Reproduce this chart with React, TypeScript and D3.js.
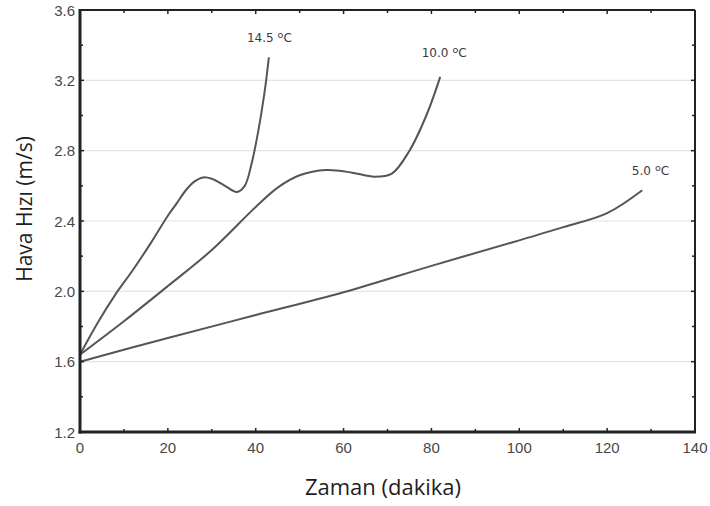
import React, { useRef, useEffect } from 'react';
import * as d3 from 'd3';

// zaman (dakika) / hava hizi (m/s)
const t145 = [0, 4, 8, 12, 16, 20, 22, 24, 26, 28, 30, 33, 35.7, 37.5, 39, 40.5, 42, 43];
const v145 = [1.64, 1.82, 1.98, 2.12, 2.27, 2.43, 2.5, 2.572, 2.624, 2.648, 2.64, 2.6, 2.565, 2.6, 2.72, 2.9, 3.13, 3.33];

const t100 = [0, 10, 20, 30, 40, 45, 50, 56, 62, 67, 71, 75, 79, 82];
const v100 = [1.64, 1.83, 2.03, 2.235, 2.48, 2.59, 2.66, 2.69, 2.675, 2.652, 2.67, 2.8, 3.01, 3.22];

const t50 = [0, 20, 40, 60, 80, 100, 110, 120, 128];
const v50 = [1.6, 1.735, 1.865, 1.995, 2.145, 2.29, 2.365, 2.445, 2.575];

const seriesLabels = ['14.5', '10.0', '5.0'];
const xTicks = [0, 20, 40, 60, 80, 100, 120, 140];
const yTicks = [1.2, 1.6, 2.0, 2.4, 2.8, 3.2, 3.6];

const W = 710;
const H = 506;
const m = { left: 80, right: 15, top: 10, bottom: 74 };

const App = () => {
  const svgRef = useRef<SVGSVGElement>(null);

  useEffect(() => {
    const svg = d3.select(svgRef.current);
    svg.selectAll('*').remove();

    const x = d3.scaleLinear().domain([0, 140]).range([m.left, W - m.right]);
    const y = d3.scaleLinear().domain([1.2, 3.6]).range([H - m.bottom, m.top]);
    const [x0, x1] = x.range();
    const [y0, y1] = y.range();

    // grid
    svg
      .append('g')
      .selectAll('line')
      .data(yTicks.slice(1, -1))
      .enter()
      .append('line')
      .attr('x1', x0)
      .attr('x2', x1)
      .attr('y1', d => y(d))
      .attr('y2', d => y(d))
      .attr('stroke', '#e4e4e4')
      .attr('stroke-width', 1.2);

    // curves
    const line = d3
      .line<[number, number]>()
      .x(d => x(d[0]))
      .y(d => y(d[1]))
      .curve(d3.curveCatmullRom.alpha(0.5));

    const series = [
      { t: t145, v: v145 },
      { t: t100, v: v100 },
      { t: t50, v: v50 },
    ];
    series.forEach(s => {
      svg
        .append('path')
        .attr('d', line(s.t.map((t, i) => [t, s.v[i]] as [number, number])))
        .attr('fill', 'none')
        .attr('stroke', '#555')
        .attr('stroke-width', 2);
    });

    // curve labels near the end of each curve
    const labelPos = [
      { dx: -22, dy: -15 },
      { dx: -18.5, dy: -19.5 },
      { dx: -10.5, dy: -15.5 },
    ];
    series.forEach((s, i) => {
      const n = s.t.length - 1;
      const txt = svg
        .append('text')
        .attr('x', x(s.t[n]) + labelPos[i].dx)
        .attr('y', y(s.v[n]) + labelPos[i].dy)
        .attr('font-family', 'DejaVu Sans, sans-serif')
        .attr('font-size', 12)
        .attr('fill', '#3a3a3a');
      txt.append('tspan').text(seriesLabels[i]);
      txt.append('tspan').attr('dx', 4).attr('dy', -4).attr('font-size', 9.5).text('o');
      txt.append('tspan').attr('dy', 4).text('C');
    });

    // frame
    const frame = svg.append('g').attr('stroke', '#222').attr('fill', 'none');
    frame.append('line').attr('x1', x0).attr('x2', x1).attr('y1', y1).attr('y2', y1).attr('stroke-width', 2);
    frame.append('line').attr('x1', x1).attr('x2', x1).attr('y1', y1).attr('y2', y0).attr('stroke-width', 2);
    frame.append('line').attr('x1', x0).attr('x2', x0).attr('y1', y1 - 1).attr('y2', y0 + 1.5).attr('stroke-width', 3);
    frame.append('line').attr('x1', x0 - 1.5).attr('x2', x1 + 1).attr('y1', y0).attr('y2', y0).attr('stroke-width', 3);

    // inward ticks, major and minor
    const xMinor = d3.range(10, 140, 20);
    const yMinor = d3.range(1.4, 3.6, 0.4);
    const ticks = svg.append('g').attr('stroke', '#222').attr('stroke-width', 1.5);
    const tx = (vals: number[], len: number) => {
      vals.forEach(v => {
        ticks.append('line').attr('x1', x(v)).attr('x2', x(v)).attr('y1', y0).attr('y2', y0 - len);
        ticks.append('line').attr('x1', x(v)).attr('x2', x(v)).attr('y1', y1).attr('y2', y1 + len);
      });
    };
    const ty = (vals: number[], len: number) => {
      vals.forEach(v => {
        ticks.append('line').attr('y1', y(v)).attr('y2', y(v)).attr('x1', x0).attr('x2', x0 + len);
        ticks.append('line').attr('y1', y(v)).attr('y2', y(v)).attr('x1', x1).attr('x2', x1 - len);
      });
    };
    tx(xTicks.slice(1, -1), 4);
    tx(xMinor, 3);
    ty(yTicks.slice(1, -1), 4);
    ty(yMinor, 3);

    // tick labels
    svg
      .append('g')
      .selectAll('text')
      .data(xTicks)
      .enter()
      .append('text')
      .attr('x', d => x(d))
      .attr('y', y0 + 21)
      .attr('text-anchor', 'middle')
      .attr('font-family', 'Liberation Sans, Arial, sans-serif')
      .attr('font-size', 15)
      .attr('fill', '#484848')
      .text(d => d);

    svg
      .append('g')
      .selectAll('text')
      .data(yTicks)
      .enter()
      .append('text')
      .attr('x', x0 - 5)
      .attr('y', d => y(d) + 5.5)
      .attr('text-anchor', 'end')
      .attr('font-family', 'Liberation Sans, Arial, sans-serif')
      .attr('font-size', 15)
      .attr('fill', '#484848')
      .text(d => d3.format('.1f')(d));

    // axis titles
    svg
      .append('text')
      .attr('x', 383)
      .attr('y', 495)
      .attr('text-anchor', 'middle')
      .attr('font-family', 'Open Sans, sans-serif')
      .attr('font-size', 22)
      .attr('fill', '#1e1e1e')
      .text('Zaman (dakika)');

    svg
      .append('text')
      .attr('transform', `translate(32, 209) rotate(-90)`)
      .attr('text-anchor', 'middle')
      .attr('font-family', 'Open Sans, sans-serif')
      .attr('font-size', 21)
      .attr('fill', '#1e1e1e')
      .text('Hava Hızı (m/s)');
  }, []);

  return (
    <svg
      ref={svgRef}
      width={W}
      height={H}
      style={{ position: 'absolute', left: 0, top: 0, background: '#fff' }}
    />
  );
};

export default App;
